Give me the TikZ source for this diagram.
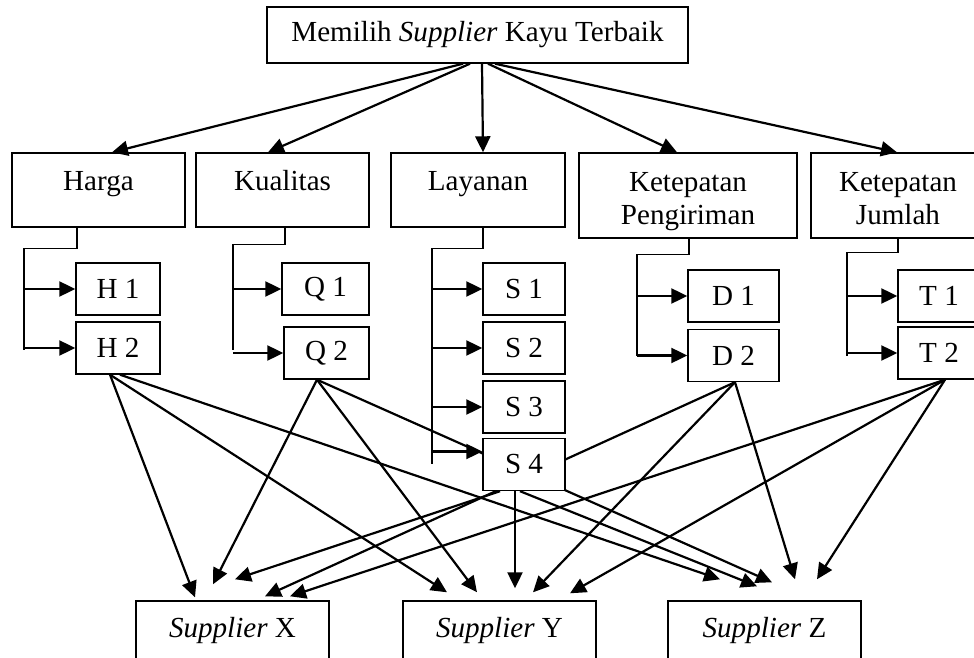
\documentclass[tikz,border=0pt]{standalone}
\usepackage{fontspec}
\setmainfont{Liberation Serif}
\usetikzlibrary{arrows.meta,calc,backgrounds}
\tikzset{
  box/.style={draw,line width=0.7bp,inner sep=0pt},
  goal/.style={box,minimum width=210.5bp,minimum height=28bp},
  crit/.style={box,minimum height=37bp,text height=19bp,text depth=18bp},
  critii/.style={box,align=center,minimum height=42.5bp,text height=35.5bp,text depth=7bp},
  sub/.style={box,fill=white,minimum height=26bp},
  alt/.style={box,minimum width=96.5bp,minimum height=30bp},
  tip/.style={-{Triangle[length=8bp,width=7.5bp]},line width=1.1bp},
  bar/.style={line width=0.7bp}
}
\begin{document}
\begin{tikzpicture}[x=0.5bp,y=-0.5bp,font=\fontsize{14.6}{16.5}\selectfont]
  \useasboundingbox (0,0) rectangle (974,658);
  \clip (0,0) rectangle (974,658);
  % goal
  \node (Goal) at (477.5,35) [goal] {Memilih \textit{Supplier} Kayu Terbaik};
  % criteria
  \node (Harga) at (98.5,190) [crit,minimum width=86.5bp] {Harga};
  \node (Kualitas) at (282.5,190) [crit,minimum width=86.5bp] {Kualitas};
  \node (Layanan) at (478,190) [crit,minimum width=87bp] {Layanan};
  \node (KP) at (688,195.5) [critii,minimum width=109bp] {Ketepatan\\Pengiriman};
  \node (KJ) at (898,195.5) [critii,minimum width=87bp] {Ketepatan\\Jumlah};
  % sub criteria
  \node (H1) at (118,289) [sub,minimum width=42bp] {H 1};
  \node (H2) at (118,348) [sub,minimum width=42bp] {H 2};
  \node (Q1) at (325.5,289) [sub,minimum width=43.5bp] {Q 1};
  \node (Q2) at (326.5,353) [sub,minimum width=42.5bp] {Q 2};
  \node (S1) at (524,289) [sub,minimum width=41bp] {S 1};
  \node (S2) at (524,348) [sub,minimum width=41bp] {S 2};
  \node (S3) at (524,407) [sub,minimum width=41bp] {S 3};
  \node (S4) at (524,464.5) [sub,minimum width=41bp] {S 4};
  \node (D1) at (733.5,296) [sub,minimum width=45.5bp] {D 1};
  \node (D2) at (733.5,355.5) [sub,minimum width=45.5bp] {D 2};
  \node (T1) at (939,296) [sub,minimum width=41bp] {T 1};
  \node (T2) at (939,353) [sub,minimum width=41bp] {T 2};
  % alternatives
  \node (X) at (232.5,631) [alt] {\textit{Supplier} X};
  \node (Y) at (499.5,631) [alt] {\textit{Supplier} Y};
  \node (Z) at (764.5,631) [alt] {\textit{Supplier} Z};
  % goal to criteria
  \draw [tip] ($(Goal.south)+(-14.5,0)$) -- ($(Harga.north)+(13.5,0)$);
  \draw [tip] ($(Goal.south)+(-7.5,0)$) -- ($(Kualitas.north)+(-14.5,0)$);
  \draw [tip] ($(Goal.south)+(4.5,0)$) -- ($(Layanan.north)+(5,0)$);
  \draw [tip] ($(Goal.south)+(10.5,0)$) -- ($(KP.north)+(-11,0)$);
  \draw [tip] ($(Goal.south)+(17.5,0)$) -- ($(KJ.north)+(-1,0)$);
  % criteria to sub criteria
  \draw [bar] ($(Harga.south)+(-21.5,0)$) -- ++(0,21) -- ++(-53,0) coordinate (hb) -- ++(0,101);
  \draw [tip] (hb |- H1.west) -- (H1.west);
  \draw [tip] (hb |- H2.west) -- (H2.west);
  \draw [bar] ($(Kualitas.south)+(2.5,0)$) -- ++(0,17) -- ++(-52,0) coordinate (qb) -- ++(0,105);
  \draw [tip] (qb |- Q1.west) -- (Q1.west);
  \draw [tip] (qb |- Q2.west) -- (Q2.west);
  \draw [bar] ($(Layanan.south)+(5,0)$) -- ++(0,21) -- ++(-51,0) coordinate (sb) -- ++(0,215);
  \draw [tip] (sb |- S1.west) -- (S1.west);
  \draw [tip] (sb |- S2.west) -- (S2.west);
  \draw [tip] (sb |- S3.west) -- (S3.west);
  \draw [tip] ($(sb |- S4.west)+(0,-13)$) -- ($(S4.west)+(0,-13)$);
  \draw [bar] ($(KP.south)+(1,0)$) -- ++(0,16) -- ++(-52,0) coordinate (db) -- ++(0,101);
  \draw [tip] (db |- D1.west) -- (D1.west);
  \draw [tip] (db |- D2.west) -- (D2.west);
  \draw [bar] (KJ.south) -- ++(0,14) -- ++(-51,0) coordinate (tb) -- ++(0,103);
  \draw [tip] (tb |- T1.west) -- (T1.west);
  \draw [tip] (tb |- T2.west) -- (T2.west);
  % sub criteria to alternatives
  \begin{scope}[on background layer]
  \draw [tip] ($(H2.south)+(-8,0)$) -- ($(X.north)+(-37.5,-3)$);
  \draw [tip] ($(H2.south)+(-8,0)$) -- ($(Y.north)+(-52.5,-8)$);
  \draw [tip] ($(H2.south)+(2,0)$) -- ($(Z.north)+(-44.5,-21)$);
  \draw [tip] ($(Q2.south)+(-9.5,0)$) -- ($(X.north)+(-19.5,-16)$);
  \draw [tip] ($(Q2.south)+(-9.5,0)$) -- ($(Y.north)+(-22.5,-8)$);
  \draw [tip] ($(Q2.south)+(-9.5,0)$) -- ($(Z.north)+(7.5,-18)$);
  \draw [tip] ($(S4.south)+(-24,0)$) -- ($(X.north)+(2.5,-21)$);
  \draw [tip] ($(S4.south)+(-9,0)$) -- ($(Y.north)+(15.5,-12)$);
  \draw [tip] ($(S4.south)+(-4,0)$) -- ($(Z.north)+(-7.5,-14)$);
  \draw [tip] ($(D2.south)+(1.5,0)$) -- ($(X.north)+(32.5,-4)$);
  \draw [tip] ($(D2.south)+(1.5,0)$) -- ($(Y.north)+(33.5,-8)$);
  \draw [tip] ($(D2.south)+(1.5,0)$) -- ($(Z.north)+(30.5,-21)$);
  \draw [tip] ($(T2.south)+(6,0)$) -- ($(X.north)+(57.5,-4)$);
  \draw [tip] ($(T2.south)+(6,0)$) -- ($(Y.north)+(70.5,-7)$);
  \draw [tip] ($(T2.south)+(6,0)$) -- ($(Z.north)+(52.5,-21)$);
  \end{scope}
\end{tikzpicture}
\end{document}
